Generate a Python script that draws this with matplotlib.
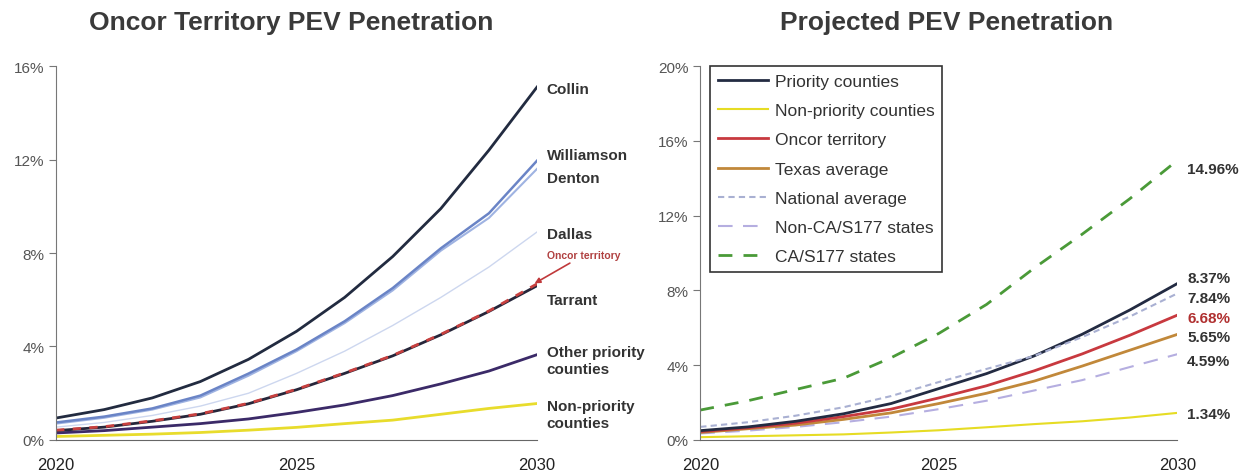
import numpy as np
import matplotlib.pyplot as plt

plt.rcParams['font.family'] = ['Liberation Sans', 'DejaVu Sans']

years = np.arange(2020, 2031)

# Left panel: county penetration (%)
collin = [0.94, 1.3, 1.8, 2.5, 3.45, 4.65, 6.1, 7.85, 9.9, 12.4, 15.1]
williamson = [0.75, 1.0, 1.35, 1.9, 2.84, 3.87, 5.08, 6.5, 8.2, 9.7, 11.95]
denton = [0.7, 0.95, 1.3, 1.82, 2.75, 3.8, 5.0, 6.4, 8.1, 9.5, 11.6]
dallas = [0.55, 0.75, 1.05, 1.45, 2.0, 2.85, 3.8, 4.9, 6.1, 7.4, 8.9]
tarrant = [0.4, 0.55, 0.8, 1.1, 1.55, 2.15, 2.85, 3.6, 4.5, 5.5, 6.6]
oncor_left = [0.42, 0.57, 0.82, 1.12, 1.57, 2.17, 2.87, 3.62, 4.52, 5.52, 6.68]
other_priority = [0.3, 0.4, 0.55, 0.7, 0.9, 1.18, 1.5, 1.9, 2.4, 2.95, 3.65]
non_priority_left = [0.15, 0.2, 0.25, 0.32, 0.42, 0.54, 0.7, 0.85, 1.1, 1.35, 1.56]

# Right panel: projected penetration (%)
priority = [0.5, 0.7, 1.0, 1.4, 1.95, 2.75, 3.55, 4.5, 5.65, 6.95, 8.37]
non_priority = [0.15, 0.2, 0.25, 0.3, 0.4, 0.52, 0.68, 0.85, 1.0, 1.2, 1.45]
oncor = [0.45, 0.65, 0.9, 1.25, 1.65, 2.25, 2.9, 3.7, 4.6, 5.6, 6.68]
texas = [0.4, 0.6, 0.8, 1.1, 1.45, 1.95, 2.5, 3.15, 3.95, 4.8, 5.65]
national = [0.7, 0.95, 1.3, 1.75, 2.35, 3.1, 3.8, 4.5, 5.5, 6.6, 7.84]
non_ca = [0.35, 0.5, 0.7, 0.95, 1.25, 1.65, 2.1, 2.65, 3.2, 3.9, 4.59]
ca_s177 = [1.6, 2.1, 2.7, 3.3, 4.4, 5.7, 7.25, 9.2, 11.0, 12.9, 14.96]

end_labels = ['14.96%', '8.37%', '7.84%', '6.68%', '5.65%', '4.59%', '1.34%']
end_label_y = [14.5, 8.65, 7.6, 6.55, 5.5, 4.25, 1.4]

fig = plt.figure(figsize=(12.46, 4.77), dpi=100)
ax1 = fig.add_axes([0.045, 0.0755, 0.386, 0.784])
ax2 = fig.add_axes([0.562, 0.0755, 0.383, 0.784])

grey = '#555555'

def style(ax, ymax, step):
    for s in ['top', 'right']:
        ax.spines[s].set_visible(False)
    ax.spines['left'].set_color('#777777')
    ax.spines['bottom'].set_color('#666666')
    ax.set_xlim(2020, 2030)
    ax.set_ylim(0, ymax)
    ax.set_xticks([2020, 2025, 2030])
    ax.set_yticks(np.arange(0, ymax + 0.1, step))
    ax.set_yticklabels([f'{int(v)}%' for v in np.arange(0, ymax + 0.1, step)])
    ax.tick_params(axis='y', length=5, colors='#777777', labelsize=11, labelcolor=grey)
    ax.tick_params(axis='x', length=0, labelsize=12, pad=12, labelcolor='#222222')

style(ax1, 16, 4)
style(ax2, 20, 4)

# left panel lines
ax1.plot(years, non_priority_left, color='#e8dc2c', lw=2)
ax1.plot(years, other_priority, color='#3b2a68', lw=2)
ax1.plot(years, dallas, color='#cdd7ef', lw=1)
ax1.plot(years, denton, color='#9fb3e2', lw=1.5)
ax1.plot(years, williamson, color='#6a84c6', lw=1.8)
ax1.plot(years, collin, color='#222b40', lw=2)
ax1.plot(years, tarrant, color='#26263a', lw=2)
ax1.plot(years, oncor_left, color='#c8403f', lw=2, dashes=(3, 3))

lbl = dict(fontsize=11, fontweight='bold', color='#333333', va='center', ha='left')
ax1.text(2030.2, 15.0, 'Collin', **lbl)
ax1.text(2030.2, 12.2, 'Williamson', **lbl)
ax1.text(2030.2, 11.2, 'Denton', **lbl)
ax1.text(2030.2, 8.8, 'Dallas', **lbl)
ax1.text(2030.2, 6.0, 'Tarrant', **lbl)
ax1.text(2030.2, 3.4, 'Other priority\ncounties', linespacing=1.3, **lbl)
ax1.text(2030.2, 1.1, 'Non-priority\ncounties', linespacing=1.3, **lbl)
ax1.annotate('Oncor territory', xy=(2029.95, 6.7), xytext=(2030.2, 7.9),
             fontsize=7.5, fontweight='bold', color='#b04040', va='center', ha='left',
             arrowprops=dict(arrowstyle='-|>', color='#c0393b', lw=1.2,
                             mutation_scale=8, shrinkA=0, shrinkB=0),
             annotation_clip=False)

# right panel lines
ax2.plot(years, non_priority, color='#e6dc24', lw=1.5, label='Non-priority counties')
ax2.plot(years, non_ca, color='#b5aee0', lw=1.5, dashes=(7, 5), label='Non-CA/S177 states')
ax2.plot(years, texas, color='#c1883a', lw=2, label='Texas average')
ax2.plot(years, oncor, color='#c8393f', lw=2, label='Oncor territory')
ax2.plot(years, priority, color='#232b42', lw=2, label='Priority counties')
ax2.plot(years, national, color='#a9b0d2', lw=1.5, dashes=(3, 2), label='National average')
ax2.plot(years, ca_s177, color='#4a9a38', lw=2, dashes=(5, 4), label='CA/S177 states')

order = ['Priority counties', 'Non-priority counties', 'Oncor territory', 'Texas average',
         'National average', 'Non-CA/S177 states', 'CA/S177 states']
handles, labels = ax2.get_legend_handles_labels()
hmap = dict(zip(labels, handles))
leg = ax2.legend([hmap[k] for k in order], order, loc='upper left',
                 bbox_to_anchor=(0.02, 1.0), fontsize=12.5, handlelength=2.9,
                 handletextpad=0.4, labelspacing=0.81, borderpad=0.45,
                 borderaxespad=0, fancybox=False, framealpha=1, edgecolor='#333333')
leg.get_frame().set_linewidth(1.2)
for t in leg.get_texts():
    t.set_color('#333333')

for txt, yv in zip(end_labels, end_label_y):
    ax2.text(2030.2, yv, txt, fontsize=11, fontweight='bold',
             color='#b03030' if txt == '6.68%' else '#333333', va='center', ha='left')

fig.text(0.2335, 0.952, 'Oncor Territory PEV Penetration', fontsize=19, fontweight='bold',
         color='#3a3a3a', ha='center', va='center')
fig.text(0.760, 0.952, 'Projected PEV Penetration', fontsize=19, fontweight='bold',
         color='#3a3a3a', ha='center', va='center')

fig.savefig('out.png', dpi=100)
